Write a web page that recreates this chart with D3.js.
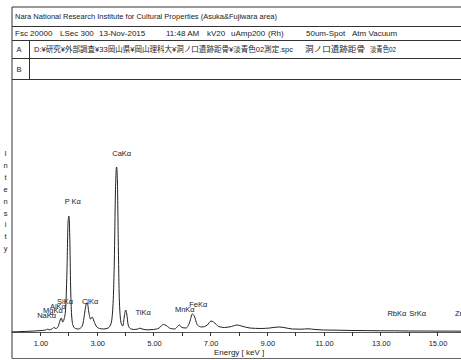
<!DOCTYPE html>
<html>
<head>
<meta charset="utf-8">
<script src="https://cdn.jsdelivr.net/npm/d3@7"></script>
<style>
  html, body { margin: 0; padding: 0; background: #fff; }
  svg { display: block; }
  text { font-family: "Liberation Sans", Arial, sans-serif; fill: #222; }
  .cjk { font-family: "Liberation Sans", "Noto Sans CJK JP", sans-serif; }
</style>
</head>
<body>
<svg id="chart" width="461" height="360"></svg>
<script>
// XRF spectrum: energy (keV) and intensity (counts, arbitrary)
const energy = [
  0.00, 0.20, 0.50, 0.80, 1.00, 1.10, 1.20, 1.26, 1.32, 1.42, 1.49, 1.56, 1.64, 1.70, 1.75, 1.80,
  1.85, 1.90, 1.95, 1.99, 2.02, 2.05, 2.08, 2.12, 2.17, 2.25, 2.35, 2.45, 2.52, 2.58, 2.63, 2.67,
  2.72, 2.78, 2.84, 2.90, 2.98, 3.10, 3.25, 3.40, 3.50, 3.57, 3.62, 3.66, 3.70, 3.73, 3.76, 3.80,
  3.86, 3.92, 3.97, 4.02, 4.06, 4.11, 4.18, 4.30, 4.45, 4.52, 4.60, 4.80, 5.00, 5.20, 5.35, 5.45,
  5.60, 5.75, 5.85, 5.92, 6.00, 6.15, 6.28, 6.37, 6.44, 6.55, 6.70, 6.90, 7.03, 7.12, 7.30, 7.50,
  7.75, 7.95, 8.10, 8.40, 8.80, 9.10, 9.40, 9.60, 9.90, 10.20, 10.45, 10.70, 11.00, 11.50, 12.00, 12.50,
  13.00, 13.50, 14.00, 14.50, 15.00, 15.50, 16.00, 17.00
];
const counts = [
  0, 3, 6, 10, 14, 16, 20, 28, 22, 30, 45, 35, 55, 110, 140, 100,
  130, 220, 600, 1100, 1160, 950, 450, 150, 60, 35, 30, 45, 90, 200, 280, 290,
  200, 130, 150, 110, 60, 35, 30, 40, 80, 250, 700, 1400, 1650, 1500, 900, 300,
  90, 60, 150, 220, 180, 70, 35, 25, 30, 38, 30, 22, 25, 40, 75, 65,
  35, 30, 55, 70, 45, 40, 100, 180, 160, 70, 50, 70, 110, 100, 55, 45,
  55, 70, 60, 40, 35, 40, 50, 45, 30, 28, 32, 25, 20, 18, 15, 14,
  12, 12, 10, 10, 9, 9, 8, 8
];

// Element line labels and their energies (keV)
const peakNames = ["NaKα", "MgKα", "AlKα", "SiKα", "P Kα", "ClKα", "CaKα", "TiKα", "MnKα", "FeKα", "RbKα", "SrKα", "ZrKα"];
const peakEnergies = [1.04, 1.25, 1.49, 1.74, 2.01, 2.62, 3.69, 4.51, 5.90, 6.40, 13.39, 14.16, 15.77];

// Axis ticks
const tickMinor = [1, 2, 3, 4, 5, 6, 7, 8, 9, 10, 11, 12, 13, 14, 15, 16];
const tickMajor = [1, 3, 5, 7, 9, 11, 13, 15];
const tickLabels = ["1.00", "3.00", "5.00", "7.00", "9.00", "11.00", "13.00", "15.00"];

// Header contents
const titleText = "Nara National Research Institute for Cultural Properties (Asuka&Fujiwara area)";
const condFields = ["Fsc 20000", "LSec 300", "13-Nov-2015", "11:48 AM", "kV20", "uAmp200", "(Rh)", "50um-Spot", "Atm Vacuum"];
const rowNames = ["A", "B"];
const rowTexts = ["D:¥研究¥外部調査¥33岡山県¥岡山理科大¥洞ノ口遺跡距骨¥淡青色02測定.spc", ""];
const rowComments = ["洞ノ口遺跡距骨", ""];
const rowSamples = ["淡青色02", ""];
const yLetters = "Intensity".split("");

// ---- layout ----
const W = 461, H = 360;
const frameL = 12, frameT = 7, frameB = 358.5;
const rowLines = [26, 40, 58, 79];
const plotBase = 332;
const svg = d3.select("#chart");

const x = d3.scaleLinear().domain([0, 20]).range([11.64, 11.64 + 20 * 28.36]);
const y = d3.scaleLinear().domain([0, 2000]).range([plotBase, plotBase - 200]);

const frame = svg.append("g").attr("stroke", "#333").attr("stroke-width", 1).attr("fill", "none");
frame.append("line").attr("x1", frameL).attr("x2", W).attr("y1", frameT).attr("y2", frameT);
frame.append("line").attr("x1", frameL).attr("x2", frameL).attr("y1", frameT).attr("y2", frameB);
frame.append("line").attr("x1", frameL).attr("x2", W).attr("y1", frameB).attr("y2", frameB).attr("stroke", "#666");
rowLines.forEach(ry => frame.append("line").attr("x1", frameL).attr("x2", W).attr("y1", ry + 0.5).attr("y2", ry + 0.5));
frame.append("line").attr("x1", 29.5).attr("x2", 29.5).attr("y1", rowLines[1]).attr("y2", rowLines[3]);

// header text
svg.append("text").attr("x", 15).attr("y", 19).attr("font-size", 8)
  .attr("textLength", 262).attr("lengthAdjust", "spacingAndGlyphs").text(titleText);
const condX = [15, 60, 99, 166, 207, 231, 268, 306, 352];
const cond = svg.append("text").attr("y", 36).attr("font-size", 8);
condFields.forEach((f, i) => cond.append("tspan").attr("x", condX[i]).text(f));

rowNames.forEach((n, i) => {
  const cy = (rowLines[i + 1] + rowLines[i + 2]) / 2 + 3;
  svg.append("text").attr("x", 19).attr("y", cy).attr("font-size", 7.5).attr("text-anchor", "middle").text(n);
  if (rowTexts[i]) {
    svg.append("text").attr("class", "cjk").attr("x", 34).attr("y", cy).attr("font-size", 8)
      .attr("textLength", 259).attr("lengthAdjust", "spacingAndGlyphs").text(rowTexts[i]);
    svg.append("text").attr("class", "cjk").attr("x", 305).attr("y", cy).attr("font-size", 8)
      .attr("textLength", 60).attr("lengthAdjust", "spacingAndGlyphs").text(rowComments[i]);
    svg.append("text").attr("class", "cjk").attr("x", 370).attr("y", cy).attr("font-size", 8)
      .attr("textLength", 26).attr("lengthAdjust", "spacingAndGlyphs").text(rowSamples[i]);
  }
});

// y axis title, stacked letters
svg.append("g").selectAll("text").data(yLetters).join("text")
  .attr("x", 5.5).attr("y", (d, i) => 156 + i * 11.9)
  .attr("font-size", 7.5).attr("text-anchor", "middle").text(d => d);

// baseline + ticks
svg.append("line").attr("x1", frameL).attr("x2", W).attr("y1", plotBase + 0.5).attr("y2", plotBase + 0.5)
  .attr("stroke", "#555").attr("stroke-width", 1);
svg.append("g").selectAll("line").data(tickMinor).join("line")
  .attr("x1", d => Math.round(x(d)) + 0.5).attr("x2", d => Math.round(x(d)) + 0.5)
  .attr("y1", plotBase).attr("y2", plotBase + 4).attr("stroke", "#333");
svg.append("g").selectAll("text").data(tickMajor).join("text")
  .attr("x", d => x(d) + 1).attr("y", 346).attr("font-size", 7.5).attr("text-anchor", "middle")
  .text((d, i) => tickLabels[i]);
svg.append("text").attr("x", 214).attr("y", 355).attr("font-size", 8).text("Energy [ keV ]");

// spectrum
const pts = energy.map((e, i) => [e, counts[i]]);
svg.append("path").datum(pts)
  .attr("fill", "none").attr("stroke", "#222").attr("stroke-width", 1)
  .attr("d", d3.line().x(d => x(d[0])).y(d => y(d[1])).curve(d3.curveMonotoneX));

// peak labels (low-energy ones stack diagonally, as in the instrument printout)
const labelBaseline = [318, 313, 308.5, 304, 204, 304, 156, 314.5, 312, 307, 316, 316, 316];
svg.append("g").selectAll("text").data(peakNames).join("text")
  .attr("x", (d, i) => x(peakEnergies[i]) - 4)
  .attr("y", (d, i) => labelBaseline[i])
  .attr("font-size", 7.5)
  .text(d => d);
</script>
</body>
</html>
